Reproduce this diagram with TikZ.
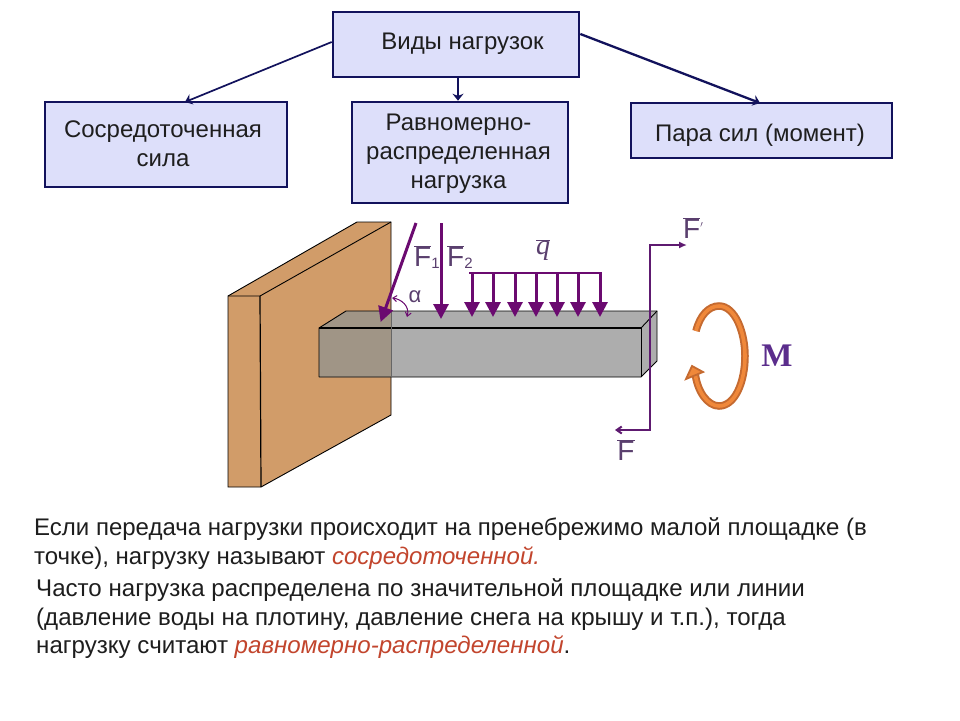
\documentclass[tikz,border=0pt]{standalone}
\usepackage{fontspec}
\setmainfont{Liberation Sans}
\newfontfamily\serifface{Liberation Serif}
\usetikzlibrary{arrows.meta,calc}
\definecolor{boxfill}{HTML}{DDDFFA}
\definecolor{boxline}{HTML}{12125C}
\definecolor{wallc}{HTML}{D19C69}
\definecolor{beamc}{HTML}{ADADAD}
\definecolor{beamw}{HTML}{A09586}
\definecolor{forcec}{HTML}{6B0A70}
\definecolor{thinf}{HTML}{5E1A70}
\definecolor{labelc}{HTML}{5A3F6E}
\definecolor{mcol}{HTML}{5B2D8C}
\definecolor{orD}{HTML}{C56A30}
\definecolor{orL}{HTML}{F0883A}
\definecolor{emph}{HTML}{C2452D}
\definecolor{bodyc}{HTML}{1E1E1E}
\newcommand{\barF}{$\overline{\mbox{F}}$}
\tikzset{
  vbox/.style={draw=boxline,line width=2.6pt,fill=boxfill,inner sep=0pt},
  vtext/.style={inner sep=0pt,align=center,text=bodyc,font=\fontsize{24}{29}\selectfont},
  link/.style={draw=boxline,-{Stealth[length=7pt,width=11pt]}},
  load/.style={draw=forcec,line width=3pt,-{Triangle[length=15pt,width=15pt]},shorten >=-1pt},
  edge0/.style={draw=black,line width=0.9pt},
  flabel/.style={text=labelc,font=\fontsize{28}{28}\selectfont,inner sep=0pt},
  para/.style={anchor=north west,inner sep=0pt,align=left,text=bodyc,font=\fontsize{24}{29}\selectfont}
}
\begin{document}
\begin{tikzpicture}[x=1pt,y=-1pt]
\useasboundingbox (0,0) rectangle (960,720);
\fill[white] (0,0) rectangle (960,720);

% boxes
\node[vbox,minimum width=246pt,minimum height=65pt] (top) at (456,44.5) {};
\node[vtext] (toptext) at (462.5,44) {Виды нагрузок};
\node[vbox,minimum width=242pt,minimum height=85pt] (left) at (166,144.5) {};
\node[vtext] (lefttext) at (163,144) {Сосредоточенная\\сила};
\node[vbox,minimum width=216pt,minimum height=101pt] (mid) at (460,152.5) {};
\node[vtext] (midtext) at (458.5,154) {Равномерно-\\распределенная\\нагрузка};
\node[vbox,minimum width=261pt,minimum height=55pt] (right) at (761.5,130.5) {};
\node[vtext] (righttext) at (760,135.5) {Пара сил (момент)};

\coordinate (aL) at (top.west |- 0,42);
\coordinate (aR) at (top.east |- 0,34);
\coordinate (eL) at (185,102);
\coordinate (eR) at (760,103);
\draw[link,line width=1.7pt] (aL) -- (eL);
\draw[link,line width=2.3pt] (aR) -- (eR);
\draw[link,line width=2.6pt] (top.south -| 458,0) -- (mid.north -| 458,0);

% wall
\coordinate (w1) at (228,296);
\coordinate (w2) at (260,296);
\coordinate (w3) at (357,222);
\coordinate (w4) at (391,222);
\coordinate (w5) at (391,415);
\coordinate (w6) at (261,487);
\coordinate (w7) at (228,487);
\fill[wallc] (w1) -- (w3) -- (w4) -- (w5) -- (w6) -- (w7) -- cycle;
\draw[edge0] (w1) -- (w3) -- (w4) -- (w5) -- (w6) -- (w7) -- cycle;
\draw[edge0] (w1) -- (w2) -- (w4);
\draw[edge0,line width=1.2pt] (w2) -- (w6);

% beam
\coordinate (b1) at (319,328);
\coordinate (b2) at (641,328);
\coordinate (b3) at (641,377);
\coordinate (b4) at (319,377);
\coordinate (b5) at (346,311);
\coordinate (b6) at (657,311);
\coordinate (b7) at (657,361);
\fill[beamc] (b1) -- (b5) -- (b6) -- (b7) -- (b3) -- (b4) -- cycle;
\fill[beamw] (b1) -- (b5) -- (391,311) -- (391,377) -- (b4) -- cycle;
\draw[edge0] (b4) -- (b1) -- (b5) -- (b6) -- (b7) -- (b3) -- (b4);
\draw[edge0,line width=1.5pt] (b1) -- (b2);
\draw[edge0] (b2) -- (b3);
\draw[edge0] (b2) -- (b6);
\draw[black!60,line width=0.7pt] (391,311) -- (391,377);

% point forces
\coordinate (f1s) at (416,223);
\coordinate (f1e) at (381,321);
\coordinate (f2s) at (441,223);
\coordinate (f2e) at (441,318);
\draw[load] (f1s) -- (f1e);
\draw[load] (f2s) -- (f2e);
\node[flabel,anchor=west] (lf1) at (414,257) {\barF\raisebox{-2pt}{\fontsize{15}{15}\selectfont 1}};
\node[flabel,anchor=west] (lf2) at (447,257) {\barF\raisebox{-2pt}{\fontsize{15}{15}\selectfont 2}};
\coordinate (aa) at (392,298);
\coordinate (ab) at (407,317);
\draw[forcec,line width=1pt,{Straight Barb[length=4pt,width=6pt]}-{Straight Barb[length=4pt,width=6pt]}] (aa) .. controls (401,299) and (410,306) .. (ab);
\node[flabel,font=\fontsize{22}{22}\selectfont] (alpha) at (415,297) {α};

% distributed load
\coordinate (q0) at (469,273);
\coordinate (q8) at (602,273);
\draw[forcec,line width=2.8pt] (q0) -- (q8);
\foreach \x in {472,493,515,536,557,578,600}{
  \coordinate (qt) at (\x,273);
  \coordinate (qb) at (\x,316);
  \draw[load] (qt) -- (qb);
}
\node[inner sep=0pt,text=labelc,font=\serifface\itshape\fontsize{28}{28}\selectfont] (lq) at (543,250) {$\overline{\mbox{\serifface\itshape q}}$};

% couple
\coordinate (c1) at (650,245);
\coordinate (c2) at (650,430);
\coordinate (c3) at (687,245);
\coordinate (c4) at (615,430);
\draw[thinf,line width=2pt,-{Latex[length=8pt,width=7pt]}] (c2) -- (c1) -- (c3);
\draw[thinf,line width=2pt,-{Straight Barb[length=5pt,width=7pt]}] (c1) -- (c2) -- (c4);
\node[flabel,anchor=west] (lfp) at (683,228) {\barF\raisebox{7pt}{\fontsize{13}{13}\selectfont $'$}};
\node[flabel] (lfb) at (626,450) {\barF};

% moment
\coordinate (m1) at (696,331);
\coordinate (m2) at (719,306);
\coordinate (m3) at (745,356);
\coordinate (m4) at (719,406);
\coordinate (m5) at (695,372);
\draw[orD,line width=7.5pt] (m1) .. controls (700,315) and (709,306) .. (m2) .. controls (735,306) and (745,332) .. (m3) .. controls (745,382) and (735,406) .. (m4) .. controls (708,406) and (697,392) .. (m5);
\draw[orL,line width=3.6pt] (m1) .. controls (700,315) and (709,306) .. (m2) .. controls (735,306) and (745,332) .. (m3) .. controls (745,382) and (735,406) .. (m4) .. controls (708,406) and (697,392) .. (m5);
\fill[orL,draw=orD,line width=1.8pt] (692,366) -- (703,372) -- (686,379) -- cycle;
\node[inner sep=0pt,text=mcol,font=\serifface\bfseries\fontsize{33}{33}\selectfont] (lm) at (777,356) {M};

% text
\node[para] (t1) at (34,517) {Если передача нагрузки происходит на пренебрежимо малой площадке (в\\точке), нагрузку называют {\color{emph}\itshape сосредоточенной.}};
\node[para,font=\fontsize{24.1}{28.7}\selectfont] (t2) at (36,578.5) {Часто нагрузка распределена по значительной площадке или линии\\(давление воды на плотину, давление снега на крышу и т.п.), тогда\\нагрузку считают {\color{emph}\itshape равномерно-распределенной}.};
\end{tikzpicture}
\end{document}
